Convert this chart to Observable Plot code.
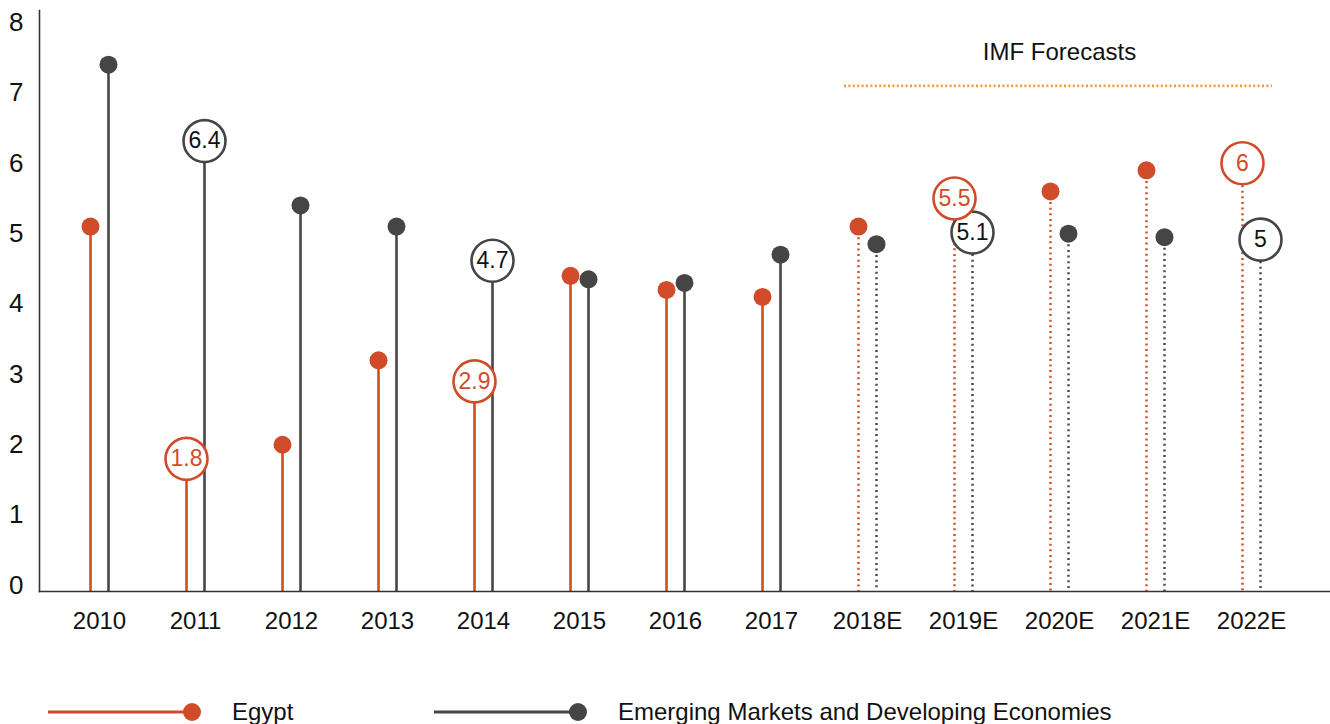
<!DOCTYPE html>
<html><head><meta charset="utf-8">
<script src="https://cdn.jsdelivr.net/npm/d3@7"></script>
<script src="https://cdn.jsdelivr.net/npm/@observablehq/plot@0.6"></script>
<style>
body{margin:0;background:#fff;font-family:"Liberation Sans",Arial,Helvetica,sans-serif;color:#111;}
#wrap{position:relative;width:1330px;height:724px;overflow:hidden;}
#chart{position:absolute;left:0;top:0;}
.leg{position:absolute;top:699px;height:26px;display:flex;align-items:center;}
.leg span{font-size:24px;color:#111;white-space:nowrap;}
</style></head>
<body><div id="wrap"><div id="chart"></div></div>
<script>
const categories = ["2010","2011","2012","2013","2014","2015","2016","2017","2018E","2019E","2020E","2021E","2022E"];
const forecastCategories = ["2018E","2019E","2020E","2021E","2022E"];
const labeledCategories = ["2011","2014","2019E","2022E"];
const egyptValues = [5.1, 1.8, 2.0, 3.2, 2.9, 4.4, 4.2, 4.1, 5.1, 5.5, 5.6, 5.9, 6];
const emdeValues  = [7.4, 6.4, 5.4, 5.1, 4.7, 4.35, 4.3, 4.7, 4.85, 5.1, 5.0, 4.95, 5];
const seriesNames = ["Egypt", "Emerging Markets and Developing Economies"];
const seriesColors = ["#d14b28", "#454545"];
const labelTextColors = ["#d14b28", "#111111"];
const yTicks = [0,1,2,3,4,5,6,7,8];
const forecastTitle = "IMF Forecasts";
const forecastLineColor = "#f39c37";

const seriesValues = [egyptValues, emdeValues];
const offsets = [-9, 9];
const labelShift = [0, 6];
const rows = [];
seriesValues.forEach((vals, s) => {
  categories.forEach((c, i) => rows.push({
    cat: c, series: seriesNames[s], s, value: vals[i],
    forecast: forecastCategories.includes(c),
    labeled: labeledCategories.includes(c)
  }));
});

const font = '"Liberation Sans", Arial, Helvetica, sans-serif';
const marks = [];
// stems: Egypt first, then EMDE
[0, 1].forEach(s => {
  const d = rows.filter(r => r.s === s);
  marks.push(Plot.ruleX(d.filter(r => !r.forecast), {x: "cat", y1: "value", y2: 0, dx: offsets[s], stroke: seriesColors[s], strokeWidth: 2.6, insetBottom: -6}));
  marks.push(Plot.ruleX(d.filter(r => r.forecast), {x: "cat", y1: "value", y2: 0, dx: offsets[s], stroke: seriesColors[s], strokeWidth: 2.4, strokeDasharray: "2 3.6", insetBottom: -6}));
});
// dots & labelled circles: EMDE first, Egypt on top
[1, 0].forEach(s => {
  const d = rows.filter(r => r.s === s);
  marks.push(Plot.dot(d.filter(r => !r.labeled), {x: "cat", y: "value", dx: offsets[s], r: 9, fill: seriesColors[s], stroke: "none"}));
  marks.push(Plot.dot(d.filter(r => r.labeled), {x: "cat", y: "value", dx: offsets[s], dy: labelShift[s], r: 21, fill: "white", stroke: seriesColors[s], strokeWidth: 2.6}));
  marks.push(Plot.text(d.filter(r => r.labeled), {x: "cat", y: "value", dx: offsets[s], dy: labelShift[s], text: r => String(r.value), fill: labelTextColors[s], fontSize: 23, fontFamily: font}));
});

const chart = Plot.plot({
  width: 1330,
  height: 645,
  marginLeft: 39,
  marginRight: 0,
  marginTop: 10,
  marginBottom: 54,
  style: {fontFamily: font, color: "#111", background: "white"},
  x: {type: "point", domain: categories, range: [97, 1252], padding: 0},
  y: {domain: [0, 8], range: [585, 22]},
  marks: [
    Plot.axisY({ticks: yTicks, tickSize: 0, tickPadding: 16, fontSize: 26, label: null, tickFormat: d => String(d)}),
    Plot.axisX({tickSize: 0, tickPadding: 20, fontSize: 24, label: null}),
    Plot.ruleY([{a: forecastCategories[0], b: forecastCategories[forecastCategories.length - 1], v: 7.1}], {x1: "a", x2: "b", y: "v", stroke: forecastLineColor, strokeWidth: 2.6, strokeDasharray: "2 2.4", insetLeft: -23, insetRight: -21}),
    Plot.text([{c: forecastCategories[2], v: 7.58, t: forecastTitle}], {x: "c", y: "v", text: "t", fontSize: 24, fontFamily: font, fill: "#111"}),
    ...marks,
    Plot.frame({anchor: "left", stroke: "#333", strokeWidth: 1.6}),
    Plot.frame({anchor: "bottom", stroke: "#333", strokeWidth: 1.6})
  ]
});
document.getElementById("chart").appendChild(chart);

// legend
const legendLayout = [{left: 48, textLeft: 232}, {left: 434, textLeft: 618}];
const wrap = document.getElementById("wrap");
seriesNames.forEach((name, s) => {
  const L = legendLayout[s];
  const item = document.createElement("div");
  item.className = "leg";
  item.style.left = L.left + "px";
  const lineLen = 144;
  item.innerHTML = `<svg width="${lineLen + 10}" height="26" style="display:block"><line x1="0" x2="${lineLen}" y1="13" y2="13" stroke="${seriesColors[s]}" stroke-width="3"/><circle cx="${lineLen}" cy="13" r="9" fill="${seriesColors[s]}"/></svg>`;
  wrap.appendChild(item);
  const t = document.createElement("div");
  t.className = "leg";
  t.style.left = L.textLeft + "px";
  t.innerHTML = `<span>${name}</span>`;
  wrap.appendChild(t);
});
</script>
</body></html>
